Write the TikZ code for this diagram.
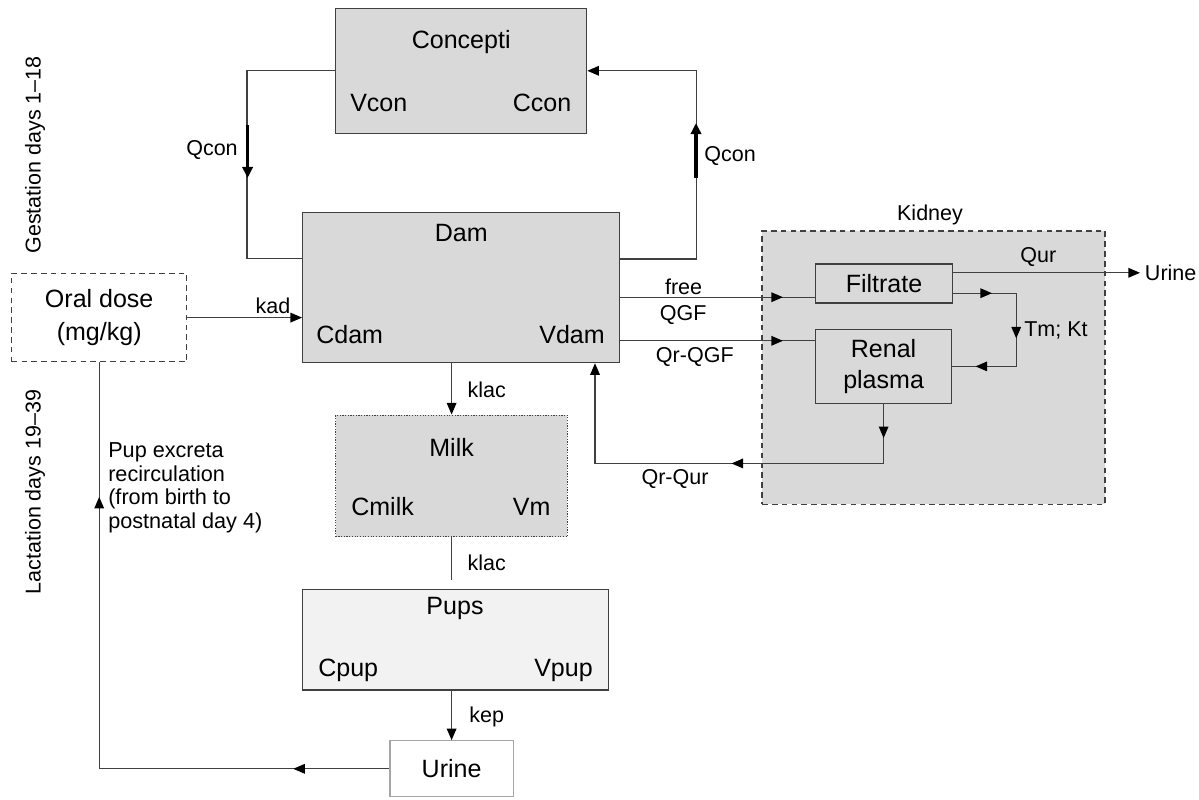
\documentclass[tikz,border=0pt]{standalone}
\usepackage{fontspec}
\setmainfont{Liberation Sans}
\usepackage{tikz}
\usetikzlibrary{arrows.meta,positioning,calc,decorations.markings}
\definecolor{boxfill}{HTML}{D9D9D9}
\definecolor{pupfill}{HTML}{F2F2F2}
\definecolor{edge}{HTML}{404040}
\definecolor{faint}{HTML}{A6A6A6}
\tikzset{
  compbox/.style={draw=edge, fill=boxfill, line width=0.9pt, inner sep=0pt},
  compname/.style={font=\fontsize{17.8}{22}\selectfont, inner sep=0pt},
  compvar/.style={font=\fontsize{17.8}{22}\selectfont, inner sep=0pt},
  ratelabel/.style={font=\fontsize{15.3}{17}\selectfont},
  dashbox/.style={dash pattern=on 4pt off 3pt},
  flowline/.style={draw=edge, line width=0.9pt},
  flowarr/.style={flowline, -{Triangle[length=2.9mm,width=2.4mm,color=black]}},
  midtip/.style={postaction={decorate, decoration={markings,
      mark=at position #1 with {\arrow{Triangle[length=2.9mm,width=2.4mm,color=black]}}}}},
  boldarr/.style={-{Triangle[length=2.8mm,width=2.6mm]}, line width=2.2pt, draw=black}
}

\begin{document}
\begin{tikzpicture}
  \useasboundingbox (0,0) rectangle (29.975,-19.975);

  % compartments
  \node[compbox, minimum width=6.275cm, minimum height=3.125cm] (con) at (11.53,-1.77) {};
  \node[compbox, minimum width=7.915cm, minimum height=3.75cm] (dam) at (11.525,-7.19) {};
  \node[compbox, densely dotted, minimum width=5.79cm, minimum height=3.04cm] (milk) at (11.29,-11.9) {};
  \node[compbox, fill=pupfill, minimum width=7.65cm, minimum height=2.52cm] (pups) at (11.38,-15.99) {};
  \node[draw=faint, line width=0.9pt, fill=white, inner sep=0pt, minimum width=3.08cm,
        minimum height=1.4cm, font=\fontsize{17.8}{22}\selectfont] (urine) at (11.29,-19.22) {Urine};
  \node[compbox, fill=white, dashbox, minimum width=4.375cm, minimum height=2.21cm, align=center,
        font=\fontsize{17.8}{24}\selectfont] (oral) at (2.48,-7.94) {Oral dose\\(mg/kg)};

  \node[compbox, dashbox, minimum width=8.575cm, minimum height=6.83cm] (kid) at (23.34,-9.19) {};
  \node[compbox, minimum width=3.41cm, minimum height=0.975cm,
        font=\fontsize{17.8}{22}\selectfont] (filt) at (22.1,-7.09) {Filtrate};
  \node[compbox, minimum width=3.39cm, minimum height=1.85cm, align=center,
        font=\fontsize{17.8}{22}\selectfont] (renal) at (22.09,-9.16) {Renal\\plasma};

  % names and variables
  \node[compname] (conname) at (11.53,-1.05) {Concepti};
  \node[compvar, anchor=west] (vcon) at (8.75,-2.575) {Vcon};
  \node[compvar, anchor=east] (ccon) at (14.29,-2.575) {Ccon};

  \node[compname] (damname) at (11.53,-5.83) {Dam};
  \node[compvar, anchor=west] (cdam) at (7.9,-8.375) {Cdam};
  \node[compvar, anchor=east] (vdam) at (15.125,-8.375) {Vdam};

  \node[compname] (milkname) at (11.29,-11.175) {Milk};
  \node[compvar, anchor=west] (cmilk) at (8.775,-12.675) {Cmilk};
  \node[compvar, anchor=east] (vm) at (13.77,-12.675) {Vm};

  \node[compname] (pupname) at (11.375,-15.2) {Pups};
  \node[compvar, anchor=west] (cpup) at (7.95,-16.75) {Cpup};
  \node[compvar, anchor=east] (vpup) at (14.825,-16.75) {Vpup};

  \node[ratelabel] (kidname) at (23.25,-5.375) {Kidney};
  \node[ratelabel, anchor=west] (urout) at (28.5,-6.82) {Urine};

  % side labels
  \node[ratelabel, rotate=90] (gest) at (0.875,-3.875) {Gestation days 1–18};
  \node[ratelabel, rotate=90] (lact) at (0.875,-12.3) {Lactation days 19–39};
  \node[ratelabel, anchor=west, align=left, inner sep=0pt,
        font=\fontsize{15.4}{16.7}\selectfont] (excr) at (2.7,-12.2)
        {Pup excreta\\recirculation\\(from birth to\\postnatal day 4)};

  % conceptus loop
  \draw[flowline] (con.west) -- ++(-2.2,0) |- ([yshift=0.73cm]dam.west);
  \draw[boldarr] (6.19,-3.125) -- (6.19,-4.45);
  \draw[flowarr] ([yshift=0.715cm]dam.east) -- ++(1.92,0) |- (con.east);
  \draw[boldarr] (17.4,-4.45) -- (17.4,-3.075);
  \node[ratelabel] (qconl) at (5.3,-3.75) {Qcon};
  \node[ratelabel] (qconr) at (18.25,-3.9) {Qcon};

  % dose, lactation, excretion
  \draw[flowarr] (oral.east) -- (oral.east -| dam.west);
  \node[ratelabel] (kad) at (6.825,-7.65) {kad};
  \draw[flowarr] (milk.north |- dam.south) -- (milk.north);
  \node[ratelabel] (klac1) at (12.17,-9.75) {klac};
  \draw[flowline] (milk.south) -- ++(0,-1.065);
  \node[ratelabel] (klac2) at (12.17,-14.08) {klac};
  \draw[flowarr] (urine.north |- pups.south) -- (urine.north);
  \node[ratelabel] (kep) at (12.17,-17.92) {kep};
  \draw[flowline, midtip=0.138, midtip=0.807] (urine.west) -| (oral.south);

  % kidney
  \coordinate (fin) at ([yshift=-0.34cm]filt.west);
  \coordinate (rin) at ([yshift=0.64cm]renal.west);
  \coordinate (qout) at ([yshift=0.27cm]filt.east);
  \coordinate (tout) at ([yshift=-0.24cm]filt.east);
  \draw[flowline, midtip=0.835] (dam.east |- fin) -- (fin);
  \draw[flowline, midtip=0.835] (dam.east |- rin) -- (rin);
  \draw[flowarr] (qout) -- (qout -| urout.west);
  \draw[flowline, midtip=0.195, midtip=0.541, midtip=0.883] (tout) -- ++(1.585,0) |- (renal.east);
  \draw[flowarr, midtip=0.076, midtip=0.472] (renal.south) -- ++(0,-1.485) -| ([xshift=3.35cm]dam.south);

  \node[ratelabel] (free) at (17.09,-7.18) {free};
  \node[ratelabel] (qgf) at (17.08,-7.875) {QGF};
  \node[ratelabel] (qrqgf) at (17.37,-8.92) {Qr-QGF};
  \node[ratelabel] (qrqur) at (16.875,-11.98) {Qr-Qur};
  \node[ratelabel] (qur) at (25.96,-6.42) {Qur};
  \node[ratelabel] (tmkt) at (26.4,-8.25) {Tm; Kt};
\end{tikzpicture}
\end{document}
